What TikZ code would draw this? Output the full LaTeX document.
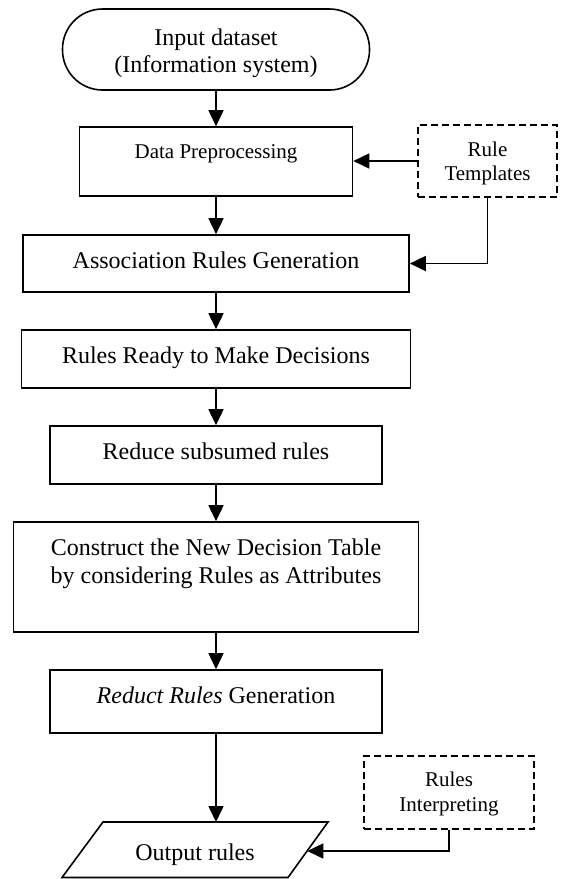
\documentclass[tikz,border=0pt]{standalone}
\usepackage{fontspec}
\setmainfont{Liberation Serif}
\usetikzlibrary{arrows.meta}
\begin{document}
\begin{tikzpicture}[x=1pt,y=-1pt,
  box/.style={draw, line width=1.6pt, inner sep=0pt},
  dbox/.style={draw, line width=1.4pt, dash pattern=on 7pt off 4pt, inner sep=0pt},
  big/.style={font=\fontsize{24}{28}\selectfont, anchor=base, inner sep=0pt},
  small/.style={font=\fontsize{21}{24}\selectfont, anchor=base, inner sep=0pt},
  arr/.style={line width=1.6pt, -{Triangle[length=16pt,width=15pt]}},
  conn/.style={line width=1.6pt, line join=miter}
]
\useasboundingbox (0,0) rectangle (565,879);

% boxes
\node[box, rounded corners=40pt, minimum width=307pt, minimum height=81pt] (term) at (216,49.5) {};
\node[box, minimum width=273pt, minimum height=69pt] (dp) at (216,161.5) {};
\node[dbox, minimum width=139pt, minimum height=72pt] (rt) at (487.5,161) {};
\node[box, minimum width=386pt, minimum height=57pt] (arg) at (216,263.5) {};
\node[box, minimum width=389pt, minimum height=58pt] (rrmd) at (216,359) {};
\node[box, minimum width=332pt, minimum height=58pt] (rsr) at (216,455) {};
\node[box, minimum width=405pt, minimum height=110pt] (cndt) at (216,577) {};
\node[box, minimum width=332pt, minimum height=63pt] (rrg) at (216,701.5) {};
\node[dbox, minimum width=170pt, minimum height=73pt] (ri) at (449,792.5) {};

% parallelogram
\coordinate (pBL) at (62,877.5);
\coordinate (pTL) at (103,822);
\coordinate (pTR) at (328,822);
\coordinate (pBR) at (288,877.5);
\draw[conn] (pBL) -- (pTL) -- (pTR) -- (pBR) -- cycle;
\coordinate (outT) at (216,822);
\coordinate (outR) at (307.3,851);

% texts
\node[big] (t1a) at (216,45) {Input dataset};
\node[big] (t1b) at (216,72) {(Information system)};
\node[small] (t2) at (216,158) {Data Preprocessing};
\node[small] (t3a) at (487.5,156) {Rule};
\node[small] (t3b) at (487.5,180) {Templates};
\node[big] (t4) at (216,268) {Association Rules Generation};
\node[big] (t5) at (216,363) {Rules Ready to Make Decisions};
\node[big] (t6) at (216,459) {Reduce subsumed rules};
\node[big] (t7a) at (216,555) {Construct the New Decision Table};
\node[big] (t7b) at (216,583) {by considering Rules as Attributes};
\node[big] (t8) at (216,703) {\textit{Reduct Rules} Generation};
\node[small] (t9a) at (449,786) {Rules};
\node[small] (t9b) at (449,811) {Interpreting};
\node[big] (t10) at (195,860) {Output rules};

% connectors
\draw[arr] (term.south) -- (dp.north);
\draw[arr] (dp.south) -- (arg.north);
\draw[arr] (arg.south) -- (rrmd.north);
\draw[arr] (rrmd.south) -- (rsr.north);
\draw[arr] (rsr.south) -- (cndt.north);
\draw[arr] (cndt.south) -- (rrg.north);
\draw[arr] (rrg.south) -- (outT);
\draw[arr] (rt.west) -- (rt.west -| dp.east);
\draw[arr] (rt.south) |- (arg.east);
\draw[arr] (ri.south) |- (outR);
\end{tikzpicture}
\end{document}
